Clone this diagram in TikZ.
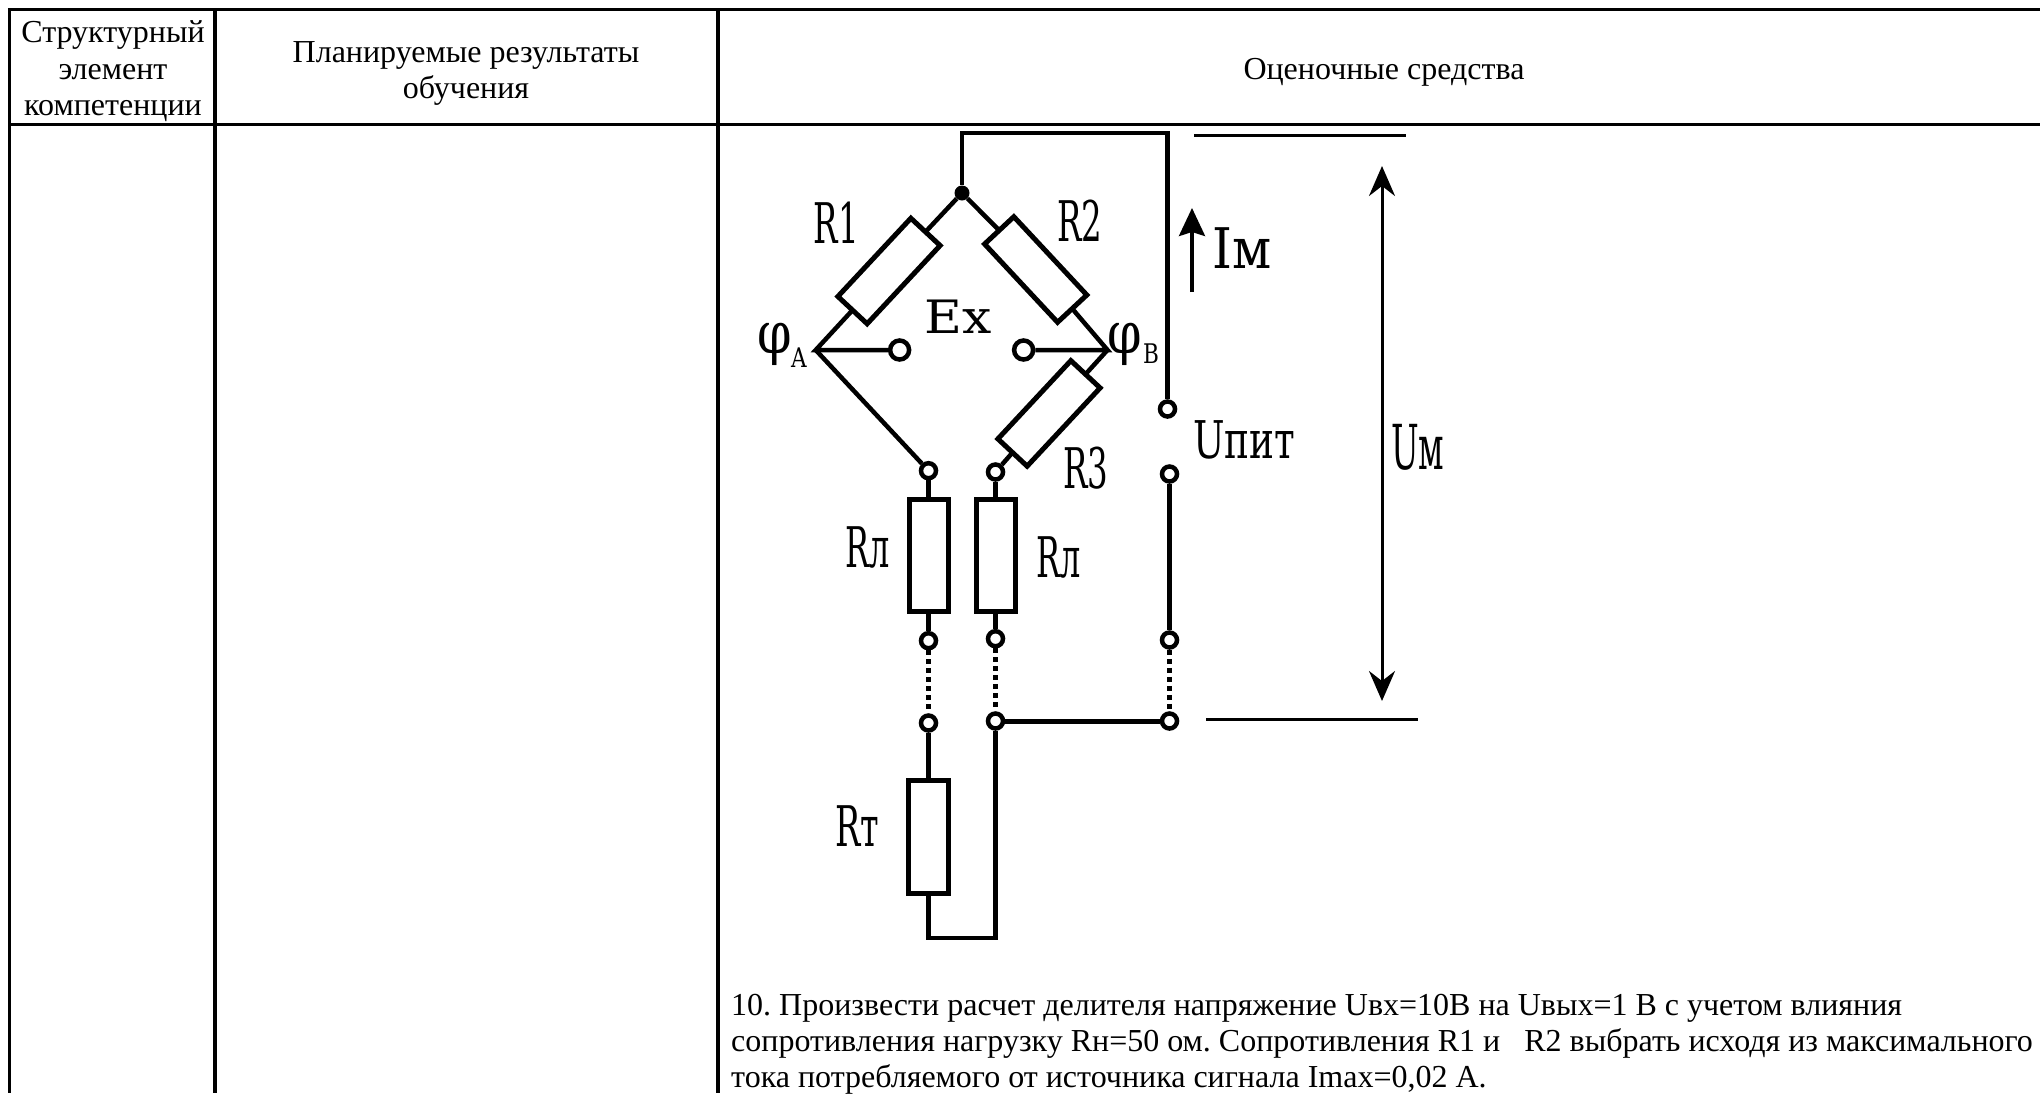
\documentclass[tikz,border=0pt]{standalone}
\usepackage{fontspec}
\setmainfont{Liberation Serif}
\newfontfamily\lblfont{DejaVu Serif}
\usetikzlibrary{arrows.meta}
\tikzset{
 x=1pt,y=-1pt,
 rule/.style={line width=3.4pt,black},
 wire/.style={line width=4.5pt,black},
 thinw/.style={line width=3pt,black},
 dots/.style={line width=4.5pt,black,dash pattern=on 5pt off 4pt},
 res/.style={draw=black,line width=5pt,fill=white,inner sep=0pt,outer sep=0pt,minimum width=#1},
 term/.style={circle,draw=black,line width=4.5pt,fill=white,inner sep=0pt,minimum size=#1},
 term/.default=15pt,
 txt/.style={font=\fontsize{32}{36}\selectfont,inner sep=0pt,anchor=base},
 lbl/.style 2 args={font=\lblfont\fontsize{#1}{#1}\selectfont,inner sep=0pt,anchor=base west,xscale=#2},
 dim/.style={line width=3pt,black,{Stealth[length=30pt,width=26pt,inset=10pt]}-{Stealth[length=30pt,width=26pt,inset=10pt]}},
}
\begin{document}
\frenchspacing
\begin{tikzpicture}
\useasboundingbox (0,0) rectangle (2040,1093);
% table
\coordinate (tl) at (7.8,9.5); \coordinate (tr) at (2040,9.5);
\coordinate (hl) at (9.5,124.5); \coordinate (hr) at (2040,124.5);
\coordinate (c1t) at (9.5,8); \coordinate (c1b) at (9.5,1093);
\coordinate (c2t) at (215,8); \coordinate (c2b) at (215,1093);
\coordinate (c3t) at (718,8); \coordinate (c3b) at (718,1093);
\draw[rule] (tl)--(tr); \draw[rule] (hl)--(hr);
\draw[rule] (c1t)--(c1b); \draw[rule] (c2t)--(c2b); \draw[rule] (c3t)--(c3b);
\node[txt] (h1a) at (113,42.5) {Структурный};
\node[txt] (h1b) at (113,79) {элемент};
\node[txt] (h1c) at (113,115.5) {компетенции};
\node[txt] (h2a) at (466,62) {Планируемые результаты};
\node[txt] (h2b) at (466,98.5) {обучения};
\node[txt] (h3) at (1384,79) {Оценочные средства};
\node[txt,anchor=base west] (q1) at (731,1015) {10. Произвести расчет делителя напряжение Uвх=10В на Uвых=1 В с учетом влияния};
\node[txt,anchor=base west] (q2) at (731,1051) {сопротивления нагрузку Rн=50 ом. Сопротивления R1 и \ \ R2 выбрать исходя из максимального};
\node[txt,anchor=base west] (q3) at (731,1087) {тока потребляемого от источника сигнала Imax=0,02 А.};
% nodes
\coordinate (corner1) at (962,133); \coordinate (corner2) at (1167.5,133);
\node[circle,fill=black,inner sep=0pt,minimum size=15pt] (J) at (962,193) {};
\coordinate (A) at (815.7,350); \coordinate (B) at (1107.5,350);
\node[res=107pt,minimum height=40pt,rotate=47] (R1) at (889,271) {};
\node[res=107pt,minimum height=40pt,rotate=-47] (R2) at (1035.7,269.5) {};
\node[res=107pt,minimum height=40pt,rotate=47] (R3) at (1049,413.4) {};
\node[term=19pt] (ExL) at (899.6,350) {};
\node[term=19pt] (ExR) at (1023.6,350) {};
\node[term] (TA) at (928.5,470.7) {};
\node[term] (TB) at (995.5,472) {};
\node[term] (U1) at (1167.5,409) {};
\node[term] (U2) at (1169.5,474) {};
\node[res=39pt,minimum height=112pt] (RL1) at (928.5,555.5) {};
\node[res=39pt,minimum height=112pt] (RL2) at (995.5,555.5) {};
\node[term] (T3) at (928.5,640.7) {};
\node[term] (T4) at (995.5,638.7) {};
\node[term] (T5) at (1169.5,640) {};
\node[term] (T6) at (928.5,723) {};
\node[term] (T7) at (995.5,721) {};
\node[term] (T8) at (1169.5,721) {};
\node[res=39.5pt,minimum height=113pt] (RT) at (928.5,836.5) {};
\coordinate (bl) at (928.5,938); \coordinate (br) at (995.5,938);
% wires
\draw[wire,line join=miter] (J)--(corner1)--(corner2)--(U1);
\draw[wire] (J)--(R1.east); \draw[wire] (J)--(R2.west);
\draw[wire] (R1.west)--(A)--(ExL);
\draw[wire] (A)--(TA);
\draw[wire] (R2.east)--(B)--(ExR);
\draw[wire] (B)--(R3.east);
\draw[wire] (R3.west)--(TB);
\draw[wire] (TA)--(RL1.north); \draw[wire] (TB)--(RL2.north);
\draw[wire] (RL1.south)--(T3); \draw[wire] (RL2.south)--(T4);
\draw[wire] (U2)--(T5);
\draw[dots] (T3)--(T6); \draw[dots] (T4)--(T7); \draw[dots] (T5)--(T8);
\draw[wire,line width=5pt] (T7)--(T8);
\draw[wire] (T6)--(RT.north);
\draw[wire,line join=miter] (RT.south)--(bl)--(br)--(T7);
% dimension lines
\coordinate (d1a) at (1194,135); \coordinate (d1b) at (1406,135);
\coordinate (d2a) at (1206,719); \coordinate (d2b) at (1418,719);
\draw[thinw] (d1a)--(d1b); \draw[thinw] (d2a)--(d2b);
\coordinate (ua) at (1382,166); \coordinate (ub) at (1382,701);
\draw[dim] (ua)--(ub);
\coordinate (ia) at (1192,292); \coordinate (ib) at (1192,208);
\draw[line width=3.5pt,-{Stealth[length=28pt,width=26pt,inset=4pt]}] (ia)--(ib);
% labels
\node[lbl={56}{.58}] (lR1) at (813.6,243) {R1};
\node[lbl={56}{.58}] (lR2) at (1057,241) {R2};
\node[lbl={56}{.58}] (lR3) at (1063,488) {R3};
\node[lbl={46}{1.13}] (lEx) at (924,333) {Ex};
\node[lbl={56}{.9}] (lIm) at (1212,268) {Iм};
\node[lbl={52}{.72}] (lUp) at (1193,458) {Uпит};
\node[lbl={62}{.53}] (lUm) at (1391,469) {Uм};
\node[lbl={56}{.57}] (lRl1) at (845,567) {Rл};
\node[lbl={56}{.57}] (lRl2) at (1036.7,577) {Rл};
\node[lbl={56}{.6}] (lRt) at (835.5,846) {Rт};
\node[lbl={58}{.85}] (lpa) at (757,353) {φ};
\node[lbl={27}{.8}] (lpas) at (791,367) {A};
\node[lbl={58}{.85}] (lpb) at (1107,353) {φ};
\node[lbl={27}{.8}] (lpbs) at (1143,363) {B};
\end{tikzpicture}
\end{document}
